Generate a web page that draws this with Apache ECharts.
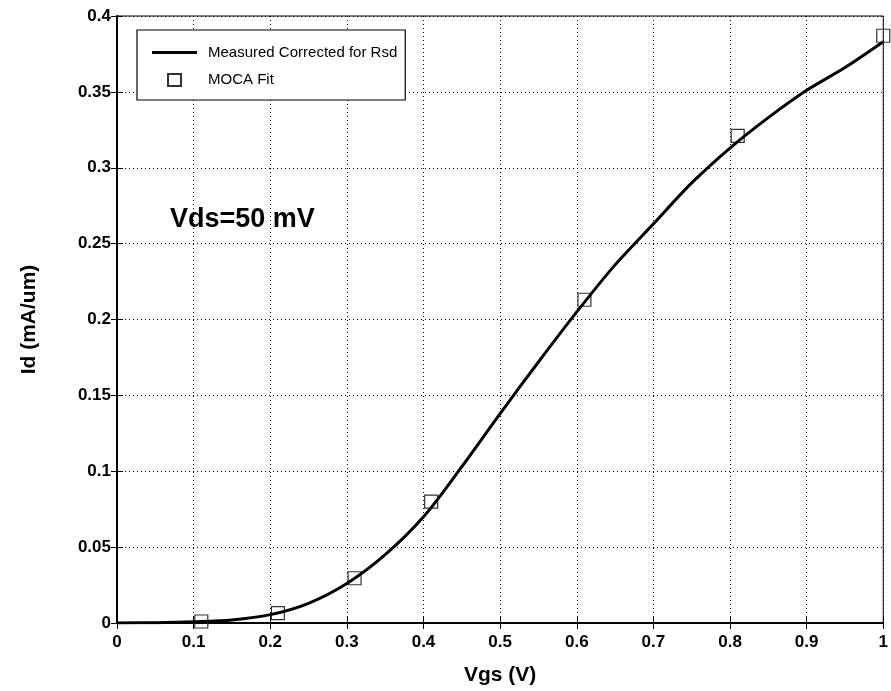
<!DOCTYPE html>
<html>
<head>
<meta charset="utf-8">
<script src="https://cdn.jsdelivr.net/npm/echarts@6/dist/echarts.min.js"></script>
<style>
html,body{margin:0;padding:0;background:#fff;}
#chart{width:891px;height:691px;}
</style>
</head>
<body>
<div id="chart"></div>
<script>
// Measured curve (Vgs in V, Id in mA/um)
const measuredVgs = [0, 0.05, 0.1, 0.15, 0.2, 0.25, 0.3, 0.35, 0.4, 0.45, 0.5, 0.55, 0.6, 0.65, 0.7, 0.75, 0.8, 0.85, 0.9, 0.95, 1.0];
const measuredId  = [0, 0.0002, 0.0008, 0.002, 0.0055, 0.013, 0.026, 0.045, 0.07, 0.103, 0.138, 0.172, 0.205, 0.236, 0.263, 0.29, 0.313, 0.333, 0.351, 0.366, 0.383];
// MOCA fit points
const fitVgs = [0.11, 0.21, 0.31, 0.41, 0.61, 0.81, 1.0];
const fitId  = [0.001, 0.0065, 0.0295, 0.08, 0.213, 0.321, 0.387];
const seriesNames = ['Measured Corrected for Rsd', 'MOCA Fit'];
const annotation = 'Vds=50 mV';

const FONT = '"Liberation Sans", Arial, Helvetica, sans-serif';
const chart = echarts.init(document.getElementById('chart'));
const tickStyle = {inside: true, length: 6, lineStyle: {color: '#000', width: 1}};
const gridLine = {show: true, lineStyle: {color: '#000', type: [1, 3], width: 1}};

chart.setOption({
  animation: false,
  backgroundColor: '#fff',
  grid: {left: 117, right: 4, top: 16, bottom: 64, show: true, borderColor: '#000', borderWidth: 1, backgroundColor: 'transparent'},
  xAxis: [{
    type: 'value', min: 0, max: 1, interval: 0.1,
    axisLine: {lineStyle: {color: '#000', width: 2}},
    axisTick: tickStyle,
    axisLabel: {color: '#000', fontSize: 17, fontWeight: 'bold', fontFamily: FONT, margin: 11},
    splitLine: gridLine,
    name: 'Vgs (V)', nameLocation: 'middle', nameGap: 42,
    nameTextStyle: {color: '#000', fontSize: 21, fontWeight: 'bold', fontFamily: FONT}
  }, {
    type: 'value', min: 0, max: 1, interval: 0.1, position: 'top',
    axisLine: {lineStyle: {color: '#000'}}, axisTick: tickStyle,
    axisLabel: {show: false}, splitLine: {show: false}
  }],
  yAxis: [{
    type: 'value', min: 0, max: 0.4, interval: 0.05,
    axisLine: {show: true, lineStyle: {color: '#000', width: 2}},
    axisTick: {show: true, inside: true, length: 6, lineStyle: {color: '#000'}},
    axisLabel: {color: '#000', fontSize: 17, fontWeight: 'bold', fontFamily: FONT, margin: 6},
    splitLine: gridLine,
    name: 'Id (mA/um)', nameLocation: 'middle', nameGap: 77, nameRotate: 90,
    nameTextStyle: {color: '#000', fontSize: 21, fontWeight: 'bold', fontFamily: FONT}
  }, {
    type: 'value', min: 0, max: 0.4, interval: 0.05, position: 'right',
    axisLine: {show: true, lineStyle: {color: '#000'}},
    axisTick: {show: true, inside: true, length: 6, lineStyle: {color: '#000'}},
    axisLabel: {show: false}, splitLine: {show: false}
  }],
  legend: {
    orient: 'vertical', left: 137, top: 30,
    backgroundColor: '#fff', borderColor: '#000', borderWidth: 1.2, borderRadius: 0,
    padding: [15, 8, 12, 14], itemGap: 12, itemWidth: 45, itemHeight: 14,
    textStyle: {color: '#000', fontSize: 15, fontFamily: FONT, padding: [0, 0, 0, 6]},
    data: [
      {name: seriesNames[0], icon: 'path://M0,0L45,0L45,3L0,3Z'},
      {name: seriesNames[1], icon: 'path://M0,0M45,14M16,1L29,1L29,13L16,13Z'}
    ]
  },
  series: [{
    name: seriesNames[0], type: 'line', smooth: 0.3,
    data: measuredVgs.map((v, i) => [v, measuredId[i]]),
    showSymbol: false, symbol: 'none',
    lineStyle: {color: '#000', width: 3}, itemStyle: {color: '#000'}, z: 5
  }, {
    name: seriesNames[1], type: 'scatter', symbol: 'rect', symbolSize: 13,
    data: fitVgs.map((v, i) => [v, fitId[i]]),
    itemStyle: {color: 'rgba(255,255,255,0)', borderColor: '#333', borderWidth: 1.2, opacity: 1},
    z: 3
  }],
  graphic: [{
    type: 'text', left: 170, top: 206,
    style: {text: annotation, fill: '#000', font: 'bold 27px ' + FONT}
  }]
});
</script>
</body>
</html>
